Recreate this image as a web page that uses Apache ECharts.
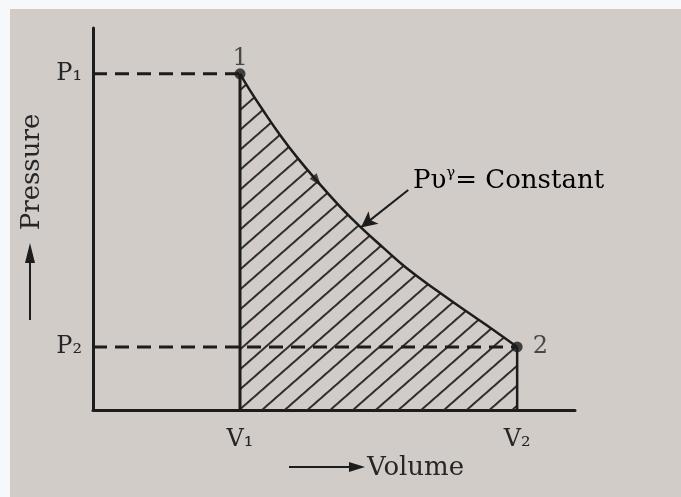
<!DOCTYPE html>
<html>
<head>
<meta charset="utf-8">
<title>Adiabatic expansion P-V diagram</title>
<script src="https://cdn.jsdelivr.net/npm/echarts@6/dist/echarts.min.js"></script>
<style>
  html, body { margin: 0; padding: 0; background: #fff; }
  #chart { width: 681px; height: 497px; }
</style>
</head>
<body>
<div id="chart"></div>
<script>
// values (volume on x, pressure on y, both scaled 0-100)
const volumeStates = [30.5, 88.0];      // V1, V2
const pressureStates = [88.0, 16.5];    // P1, P2
const volumeLabels = ['V₁', 'V₂'];
const pressureLabels = ['P₁', 'P₂'];
const stateLabels = ['1', '2'];

// expansion curve from state 1 to state 2
const curveVolume = [30.5, 32.6, 35.3, 38.8, 42.3, 46.5, 51.2, 55.4, 60.2, 65.1, 71.4, 77.6, 83.0, 88.0];
const curvePressure = [88.0, 83.6, 78.4, 72.0, 66.2, 59.9, 53.3, 48.0, 42.5, 37.1, 31.2, 25.7, 21.0, 16.5];

// direction arrow on the curve, and the pointer to the curve's label
const flowArrow = [46.5, 59.9];
const pointerFrom = [65.4, 57.6];
const pointerTo = [55.6, 47.8];

const ink = '#1c1c1c';
const textInk = '#262626';
const serif = '"DejaVu Serif", "Liberation Serif", serif';

// small tile with one stripe, rotated by the pattern to give the "/" hatching
function hatchTile() {
    const c = document.createElement('canvas');
    c.width = 15;
    c.height = 15;
    const ctx = c.getContext('2d');
    ctx.fillStyle = '#262626';
    ctx.fillRect(0, 0, 15, 1.9);
    return c;
}

const chart = echarts.init(document.getElementById('chart'));

const curveData = curveVolume.map((v, i) => [v, curvePressure[i]]);
const states = volumeStates.map((v, i) => [v, pressureStates[i]]);

const option = {
    backgroundColor: '#f6f8fa',
    animation: false,
    grid: { left: 93, top: 28, right: 106, bottom: 87 },
    xAxis: {
        type: 'value',
        min: 0,
        max: 100,
        splitLine: { show: false },
        axisTick: { show: false },
        axisLine: { lineStyle: { color: ink, width: 3 } },
        axisLabel: {
            customValues: volumeStates,
            formatter: v => volumeLabels[volumeStates.indexOf(v)],
            margin: 18,
            color: textInk,
            fontFamily: serif,
            fontSize: 24
        }
    },
    yAxis: {
        type: 'value',
        min: 0,
        max: 100,
        splitLine: { show: false },
        axisTick: { show: false },
        axisLine: { lineStyle: { color: ink, width: 3 } },
        axisLabel: {
            customValues: pressureStates,
            formatter: v => pressureLabels[pressureStates.indexOf(v)],
            margin: 11,
            color: textInk,
            fontFamily: serif,
            fontSize: 24
        }
    },
    graphic: [
        // photo paper
        { type: 'rect', z: -100, shape: { x: 10, y: 9, width: 671, height: 488 }, style: { fill: '#d1ccc8' } },
        // "Pressure" with arrow
        { type: 'line', shape: { x1: 30, y1: 320, x2: 30, y2: 258 }, style: { stroke: ink, lineWidth: 2 } },
        { type: 'polygon', shape: { points: [[30, 243], [25, 263], [35, 263]] }, style: { fill: ink } },
        {
            type: 'text', x: 32, y: 172, rotation: Math.PI / 2,
            style: { text: 'Pressure', font: '26px ' + serif, fill: textInk, align: 'center', verticalAlign: 'middle' }
        },
        // "Volume" with arrow
        { type: 'line', shape: { x1: 289, y1: 467, x2: 352, y2: 467 }, style: { stroke: ink, lineWidth: 2 } },
        { type: 'polygon', shape: { points: [[365, 467], [349, 462], [349, 472]] }, style: { fill: ink } },
        {
            type: 'text', x: 367, y: 468,
            style: { text: 'Volume', font: '26px ' + serif, fill: textInk, align: 'left', verticalAlign: 'middle' }
        },
        // curve label
        {
            type: 'text', x: 413, y: 181,
            style: {
                text: '{t|Pυ}{g|γ}{t|= Constant}',
                align: 'left',
                verticalAlign: 'middle',
                rich: {
                    t: { fontFamily: serif, fontSize: 26, color: textInk, lineHeight: 30 },
                    g: { fontFamily: serif, fontSize: 15, color: textInk, verticalAlign: 'top', lineHeight: 15 }
                }
            }
        }
    ],
    series: [
        {
            name: 'expansion',
            type: 'line',
            data: curveData,
            smooth: 0.45,
            symbol: 'none',
            z: 3,
            lineStyle: { color: ink, width: 2.5 },
            areaStyle: {
                color: { image: hatchTile(), repeat: 'repeat', rotation: -0.72 },
                opacity: 1,
                origin: 'start'
            },
            markLine: {
                silent: true,
                symbolSize: [12, 16],
                label: { show: false },
                lineStyle: { color: ink, width: 2, type: 'solid' },
                data: [[
                    { coord: pointerFrom, symbol: 'none' },
                    { coord: pointerTo, symbol: 'arrow' }
                ]]
            }
        },
        {
            // V1 and V2 verticals
            type: 'line',
            symbol: 'none',
            z: 4,
            lineStyle: { color: ink, width: 3 },
            data: [[volumeStates[0], 0], [volumeStates[0], pressureStates[0]]]
        },
        {
            type: 'line',
            symbol: 'none',
            z: 4,
            lineStyle: { color: ink, width: 2.5 },
            data: [[volumeStates[1], 0], [volumeStates[1], pressureStates[1]]]
        },
        {
            // dashed guides to P1 and P2
            type: 'line',
            symbol: 'none',
            z: 4,
            lineStyle: { color: ink, width: 3, type: [14, 8] },
            data: [[0, pressureStates[0]], [volumeStates[0], pressureStates[0]]]
        },
        {
            type: 'line',
            symbol: 'none',
            z: 4,
            lineStyle: { color: ink, width: 3, type: [14, 8] },
            data: [[0, pressureStates[1]], [volumeStates[1], pressureStates[1]]]
        },
        {
            // states 1 and 2
            type: 'scatter',
            symbolSize: 11,
            z: 5,
            itemStyle: { color: ink },
            data: states.map((p, i) => ({
                value: p,
                label: {
                    show: true,
                    formatter: stateLabels[i],
                    position: i === 0 ? 'top' : 'right',
                    distance: i === 0 ? -2 : 10,
                    fontFamily: serif,
                    fontSize: 24,
                    color: textInk
                }
            }))
        },
        {
            // arrowhead showing the direction along the curve
            type: 'scatter',
            symbol: 'triangle',
            symbolSize: [9, 13],
            symbolRotate: -142,
            z: 5,
            itemStyle: { color: ink },
            data: [flowArrow]
        }
    ]
};

chart.setOption(option);
</script>
</body>
</html>
